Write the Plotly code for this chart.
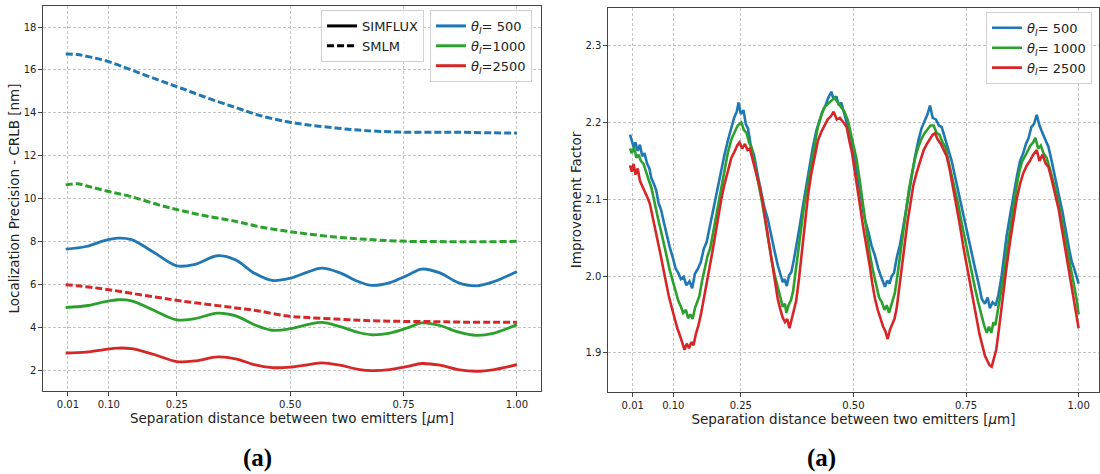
import plotly.graph_objects as go

BLUE, GREEN, RED = "#1f77b4", "#2ca02c", "#d62728"

# ---------------- Left panel data (CRLB, nm) ----------------
x_simflux = [0.005, 0.05, 0.09, 0.12, 0.15, 0.20, 0.25, 0.29, 0.34, 0.38, 0.42, 0.46, 0.50,
             0.54, 0.57, 0.61, 0.65, 0.68, 0.72, 0.76, 0.79, 0.83, 0.87, 0.91, 0.95, 1.00]
simflux_500 = [7.66, 7.78, 8.05, 8.17, 8.10, 7.50, 6.88, 6.95, 7.35, 7.15, 6.55, 6.20, 6.30,
               6.60, 6.77, 6.55, 6.15, 5.97, 6.10, 6.45, 6.73, 6.55, 6.10, 5.95, 6.15, 6.62]
simflux_1000 = [4.94, 5.02, 5.20, 5.30, 5.25, 4.80, 4.36, 4.42, 4.68, 4.55, 4.15, 3.88, 3.95,
                4.15, 4.25, 4.05, 3.78, 3.67, 3.75, 4.00, 4.22, 4.10, 3.80, 3.64, 3.75, 4.14]
simflux_2500 = [2.82, 2.86, 2.98, 3.05, 3.02, 2.75, 2.42, 2.45, 2.64, 2.55, 2.28, 2.14, 2.16,
                2.28, 2.36, 2.25, 2.06, 2.00, 2.05, 2.20, 2.33, 2.25, 2.05, 1.97, 2.05, 2.28]

x_smlm = [0.005, 0.03, 0.06, 0.10, 0.15, 0.21, 0.26, 0.32, 0.38, 0.43, 0.49, 0.54, 0.60,
          0.65, 0.70, 0.76, 0.82, 0.87, 0.93, 1.00]
smlm_500 = [16.75, 16.72, 16.60, 16.39, 16.00, 15.53, 15.15, 14.68, 14.25, 13.90, 13.60, 13.44,
            13.30, 13.20, 13.14, 13.10, 13.10, 13.10, 13.08, 13.06]
smlm_1000 = [10.65, 10.70, 10.55, 10.34, 10.10, 9.72, 9.45, 9.18, 8.95, 8.71, 8.50, 8.36,
             8.22, 8.14, 8.07, 8.02, 8.01, 8.00, 8.00, 8.02]
smlm_2500 = [6.00, 5.95, 5.88, 5.77, 5.60, 5.40, 5.24, 5.08, 4.92, 4.78, 4.55, 4.47,
             4.40, 4.35, 4.31, 4.29, 4.28, 4.26, 4.25, 4.25]

# ---------------- Right panel data (improvement factor) ----------------
x_if_500 = [0.004, 0.008, 0.012, 0.016, 0.021, 0.026, 0.031, 0.036, 0.042, 0.047, 0.051, 0.057,
            0.062, 0.067, 0.073, 0.079, 0.086, 0.092, 0.099, 0.105, 0.111, 0.117, 0.123, 0.129,
            0.136, 0.142, 0.148, 0.155, 0.161, 0.168, 0.174, 0.180, 0.187, 0.193, 0.199, 0.206,
            0.213, 0.221, 0.228, 0.235, 0.241, 0.245, 0.250, 0.256, 0.261, 0.266, 0.272, 0.279,
            0.288, 0.295, 0.302, 0.310, 0.317, 0.325, 0.332, 0.338, 0.343, 0.347, 0.352, 0.357,
            0.362, 0.368, 0.374, 0.381, 0.388, 0.395, 0.403, 0.410, 0.418, 0.425, 0.431, 0.438,
            0.444, 0.451, 0.456, 0.462, 0.468, 0.473, 0.480, 0.488, 0.496, 0.503, 0.510, 0.518,
            0.525, 0.533, 0.540, 0.548, 0.555, 0.562, 0.570, 0.575, 0.580, 0.585, 0.590, 0.597,
            0.603, 0.610, 0.616, 0.622, 0.630, 0.637, 0.644, 0.651, 0.658, 0.664, 0.670, 0.676,
            0.683, 0.690, 0.696, 0.704, 0.711, 0.718, 0.726, 0.733, 0.740, 0.748, 0.755, 0.763,
            0.770, 0.778, 0.785, 0.792, 0.798, 0.803, 0.809, 0.816, 0.822, 0.829, 0.835, 0.840,
            0.848, 0.856, 0.863, 0.870, 0.877, 0.883, 0.889, 0.895, 0.901, 0.907, 0.913, 0.920,
            0.927, 0.933, 0.940, 0.946, 0.952, 0.958, 0.964, 0.970, 0.975, 0.980, 0.985, 0.990,
            0.995, 1.000]
if_500 = [2.184, 2.176, 2.168, 2.174, 2.163, 2.171, 2.156, 2.160, 2.146, 2.140, 2.128, 2.120,
          2.112, 2.096, 2.086, 2.070, 2.052, 2.038, 2.024, 2.010, 2.004, 1.996, 1.999, 1.988,
          1.993, 1.984, 2.003, 2.010, 2.018, 2.036, 2.044, 2.062, 2.078, 2.098, 2.114, 2.135,
          2.156, 2.176, 2.190, 2.206, 2.214, 2.226, 2.211, 2.216, 2.198, 2.192, 2.170, 2.158,
          2.130, 2.112, 2.090, 2.074, 2.052, 2.032, 2.014, 2.003, 1.992, 1.996, 1.987, 2.001,
          2.005, 2.022, 2.041, 2.066, 2.092, 2.118, 2.146, 2.168, 2.190, 2.204, 2.214, 2.222,
          2.232, 2.240, 2.230, 2.234, 2.222, 2.226, 2.210, 2.195, 2.176, 2.150, 2.124, 2.098,
          2.074, 2.058, 2.040, 2.026, 2.010, 1.998, 1.986, 1.994, 1.990, 2.000, 2.004, 2.026,
          2.040, 2.062, 2.084, 2.104, 2.132, 2.156, 2.176, 2.192, 2.202, 2.210, 2.222, 2.206,
          2.204, 2.196, 2.194, 2.176, 2.164, 2.150, 2.128, 2.110, 2.090, 2.068, 2.050, 2.030,
          2.010, 1.990, 1.970, 1.964, 1.972, 1.958, 1.966, 1.962, 1.976, 2.000, 2.030, 2.052,
          2.080, 2.108, 2.130, 2.150, 2.160, 2.172, 2.180, 2.194, 2.198, 2.210, 2.196, 2.186,
          2.176, 2.168, 2.150, 2.132, 2.118, 2.100, 2.084, 2.062, 2.048, 2.032, 2.018, 2.010,
          1.998, 1.990]

x_if_1000 = [0.004, 0.008, 0.013, 0.018, 0.023, 0.028, 0.034, 0.040, 0.046, 0.051, 0.057, 0.062,
             0.068, 0.073, 0.079, 0.086, 0.092, 0.099, 0.105, 0.111, 0.117, 0.122, 0.128, 0.133,
             0.138, 0.143, 0.148, 0.153, 0.158, 0.164, 0.170, 0.176, 0.182, 0.188, 0.194, 0.200,
             0.207, 0.214, 0.221, 0.229, 0.236, 0.243, 0.251, 0.257, 0.263, 0.268, 0.273, 0.280,
             0.288, 0.296, 0.303, 0.310, 0.318, 0.325, 0.332, 0.338, 0.343, 0.348, 0.351, 0.356,
             0.361, 0.366, 0.372, 0.378, 0.384, 0.391, 0.399, 0.407, 0.414, 0.421, 0.429, 0.436,
             0.443, 0.450, 0.458, 0.465, 0.472, 0.480, 0.488, 0.496, 0.502, 0.507, 0.514, 0.522,
             0.529, 0.536, 0.543, 0.551, 0.557, 0.563, 0.569, 0.574, 0.579, 0.585, 0.592, 0.598,
             0.604, 0.611, 0.617, 0.623, 0.630, 0.637, 0.644, 0.652, 0.658, 0.665, 0.671, 0.678,
             0.685, 0.691, 0.698, 0.704, 0.711, 0.718, 0.726, 0.733, 0.740, 0.748, 0.755, 0.763,
             0.770, 0.777, 0.784, 0.790, 0.796, 0.801, 0.806, 0.811, 0.815, 0.820, 0.826, 0.833,
             0.840, 0.848, 0.855, 0.862, 0.869, 0.875, 0.881, 0.887, 0.893, 0.899, 0.904, 0.910,
             0.916, 0.922, 0.929, 0.936, 0.943, 0.952, 0.958, 0.964, 0.970, 0.975, 0.980, 0.986,
             0.991, 0.996, 1.000]
if_1000 = [2.166, 2.160, 2.168, 2.154, 2.158, 2.150, 2.146, 2.134, 2.124, 2.116, 2.098, 2.086,
           2.070, 2.058, 2.040, 2.024, 2.008, 1.992, 1.980, 1.968, 1.960, 1.952, 1.956, 1.945,
           1.950, 1.944, 1.958, 1.966, 1.974, 1.994, 2.010, 2.026, 2.036, 2.056, 2.078, 2.094,
           2.116, 2.138, 2.160, 2.178, 2.186, 2.196, 2.200, 2.190, 2.186, 2.174, 2.168, 2.148,
           2.124, 2.100, 2.076, 2.050, 2.022, 2.002, 1.984, 1.972, 1.960, 1.964, 1.952, 1.962,
           1.968, 1.980, 2.006, 2.036, 2.064, 2.094, 2.120, 2.148, 2.170, 2.194, 2.210, 2.220,
           2.224, 2.228, 2.232, 2.226, 2.220, 2.214, 2.202, 2.180, 2.166, 2.152, 2.124, 2.088,
           2.054, 2.030, 2.008, 1.988, 1.972, 1.966, 1.956, 1.962, 1.952, 1.964, 1.978, 2.002,
           2.030, 2.060, 2.086, 2.112, 2.134, 2.154, 2.168, 2.180, 2.186, 2.192, 2.196, 2.196,
           2.186, 2.184, 2.174, 2.168, 2.150, 2.134, 2.112, 2.092, 2.070, 2.046, 2.024, 2.004,
           1.984, 1.966, 1.948, 1.936, 1.926, 1.934, 1.926, 1.940, 1.936, 1.954, 1.976, 1.998,
           2.030, 2.062, 2.090, 2.116, 2.138, 2.150, 2.156, 2.164, 2.170, 2.174, 2.180, 2.166,
           2.170, 2.160, 2.154, 2.140, 2.124, 2.104, 2.086, 2.068, 2.052, 2.036, 2.022, 2.000,
           1.984, 1.968, 1.950]

x_if_2500 = [0.004, 0.008, 0.012, 0.016, 0.021, 0.026, 0.032, 0.037, 0.043, 0.048, 0.054, 0.060,
             0.066, 0.071, 0.077, 0.084, 0.090, 0.097, 0.103, 0.109, 0.115, 0.120, 0.125, 0.130,
             0.135, 0.140, 0.145, 0.150, 0.156, 0.162, 0.168, 0.175, 0.181, 0.187, 0.194, 0.200,
             0.206, 0.213, 0.221, 0.229, 0.236, 0.242, 0.247, 0.253, 0.259, 0.265, 0.270, 0.277,
             0.285, 0.292, 0.299, 0.306, 0.314, 0.320, 0.326, 0.332, 0.338, 0.343, 0.348, 0.353,
             0.358, 0.363, 0.368, 0.373, 0.379, 0.385, 0.392, 0.399, 0.406, 0.414, 0.421, 0.429,
             0.436, 0.443, 0.450, 0.456, 0.463, 0.470, 0.478, 0.485, 0.491, 0.497, 0.502, 0.507,
             0.514, 0.521, 0.529, 0.536, 0.542, 0.548, 0.554, 0.560, 0.566, 0.571, 0.576, 0.581,
             0.586, 0.591, 0.596, 0.602, 0.608, 0.614, 0.620, 0.627, 0.633, 0.640, 0.648, 0.656,
             0.663, 0.670, 0.676, 0.681, 0.687, 0.694, 0.700, 0.707, 0.714, 0.721, 0.729, 0.737,
             0.744, 0.752, 0.759, 0.766, 0.774, 0.780, 0.786, 0.792, 0.797, 0.802, 0.807, 0.812,
             0.817, 0.822, 0.828, 0.834, 0.840, 0.847, 0.855, 0.863, 0.870, 0.877, 0.885, 0.892,
             0.899, 0.907, 0.913, 0.920, 0.927, 0.933, 0.940, 0.947, 0.956, 0.962, 0.968, 0.974,
             0.981, 0.987, 0.993, 1.000]
if_2500 = [2.144, 2.136, 2.146, 2.132, 2.140, 2.124, 2.116, 2.110, 2.102, 2.094, 2.078, 2.060,
           2.046, 2.030, 2.012, 1.990, 1.974, 1.958, 1.944, 1.932, 1.922, 1.914, 1.904, 1.912,
           1.906, 1.914, 1.910, 1.924, 1.936, 1.952, 1.970, 1.992, 2.012, 2.032, 2.056, 2.078,
           2.098, 2.118, 2.138, 2.154, 2.162, 2.170, 2.174, 2.166, 2.172, 2.164, 2.166, 2.150,
           2.132, 2.116, 2.094, 2.068, 2.042, 2.016, 1.994, 1.970, 1.956, 1.946, 1.940, 1.944,
           1.932, 1.944, 1.952, 1.968, 1.996, 2.030, 2.070, 2.104, 2.132, 2.158, 2.176, 2.188,
           2.196, 2.204, 2.208, 2.214, 2.204, 2.206, 2.200, 2.194, 2.176, 2.160, 2.140, 2.118,
           2.094, 2.066, 2.040, 2.014, 1.990, 1.970, 1.956, 1.944, 1.934, 1.928, 1.918, 1.930,
           1.936, 1.944, 1.958, 1.986, 2.016, 2.046, 2.070, 2.096, 2.118, 2.134, 2.150, 2.164,
           2.172, 2.178, 2.184, 2.186, 2.178, 2.172, 2.164, 2.156, 2.138, 2.116, 2.090, 2.064,
           2.038, 2.012, 1.988, 1.966, 1.944, 1.924, 1.910, 1.896, 1.890, 1.884, 1.882, 1.892,
           1.904, 1.926, 1.956, 1.984, 2.012, 2.042, 2.074, 2.102, 2.120, 2.134, 2.144, 2.150,
           2.158, 2.164, 2.150, 2.158, 2.146, 2.142, 2.126, 2.110, 2.086, 2.064, 2.044, 2.024,
           2.000, 1.980, 1.958, 1.932]

x_ticks = [0.01, 0.10, 0.25, 0.50, 0.75, 1.00]
x_ticklabels = ["0.01", "0.10", "0.25", "0.50", "0.75", "1.00"]
left_yticks = [2, 4, 6, 8, 10, 12, 14, 16, 18]
right_yticks = [1.9, 2.0, 2.1, 2.2, 2.3]

theta = "<i>θ</i><sub><i>I</i></sub>"
labels_left = [theta + "= 500", theta + "=1000", theta + "=2500"]
labels_right = [theta + "= 500", theta + "= 1000", theta + "= 2500"]
colors = [BLUE, GREEN, RED]

fig = go.Figure()

# Left: SIMFLUX solid, SMLM dashed
for ys, c in zip([simflux_500, simflux_1000, simflux_2500], colors):
    fig.add_trace(go.Scatter(x=x_simflux, y=ys, mode="lines", line=dict(color=c, width=2.8, shape="spline"),
                             showlegend=False, xaxis="x", yaxis="y"))
for ys, c in zip([smlm_500, smlm_1000, smlm_2500], colors):
    fig.add_trace(go.Scatter(x=x_smlm, y=ys, mode="lines",
                             line=dict(color=c, width=3, dash="7px,3px", shape="spline"),
                             showlegend=False, xaxis="x", yaxis="y"))

# legend entries (style legend)
fig.add_trace(go.Scatter(x=[None], y=[None], mode="lines", line=dict(color="black", width=3),
                         name="SIMFLUX", legend="legend", xaxis="x", yaxis="y"))
fig.add_trace(go.Scatter(x=[None], y=[None], mode="lines", line=dict(color="black", width=3, dash="7px,3px"),
                         name="SMLM", legend="legend", xaxis="x", yaxis="y"))
# colour legend (left)
for lab, c in zip(labels_left, colors):
    fig.add_trace(go.Scatter(x=[None], y=[None], mode="lines", line=dict(color=c, width=3),
                             name=lab, legend="legend2", xaxis="x", yaxis="y"))

# Right panel
for xs, ys, lab, c in zip([x_if_500, x_if_1000, x_if_2500], [if_500, if_1000, if_2500], labels_right, colors):
    fig.add_trace(go.Scatter(x=xs, y=ys, mode="lines", line=dict(color=c, width=2.6),
                             name=lab, legend="legend3", xaxis="x2", yaxis="y2"))

grid = dict(showgrid=True, gridcolor="#c4c4c4", griddash="3px,2px", gridwidth=1)
axis_common = dict(showline=True, linecolor="#444", linewidth=1.2, mirror=True, ticks="outside",
                   ticklen=3.5, tickcolor="#444", zeroline=False,
                   tickfont=dict(family="DejaVu Sans", size=10, color="#222"), **grid)

legend_common = dict(xanchor="right", yanchor="top", bgcolor="rgba(255,255,255,0.85)",
                     bordercolor="#d0d0d0", borderwidth=1, font=dict(size=13, family="DejaVu Sans"),
                     tracegroupgap=0, itemwidth=30)

fig.update_layout(
    width=1100, height=474, margin=dict(l=0, r=0, t=0, b=0),
    paper_bgcolor="white", plot_bgcolor="white",
    font=dict(family="DejaVu Sans", color="#222"),
    xaxis=dict(domain=[0.0391, 0.4918], range=[-0.045, 1.053], tickvals=x_ticks, ticktext=x_ticklabels,
               title=dict(text="Separation distance between two emitters [<i>μ</i>m]", font=dict(size=13.5), standoff=4),
               anchor="y", **axis_common),
    yaxis=dict(domain=[0.1751, 0.9873], range=[1.05, 18.98], tickvals=left_yticks,
               title=dict(text="Localization Precision - CRLB [nm]", font=dict(size=13.5), standoff=0),
               anchor="x", **axis_common),
    xaxis2=dict(domain=[0.5527, 0.999], range=[-0.045, 1.045], tickvals=x_ticks, ticktext=x_ticklabels,
                title=dict(text="Separation distance between two emitters [<i>μ</i>m]", font=dict(size=13.5), standoff=4),
                anchor="y2", **axis_common),
    yaxis2=dict(domain=[0.1730, 0.9831], range=[1.849, 2.349], tickvals=right_yticks, tickformat=".1f",
                title=dict(text="Improvement Factor", font=dict(size=13.5), standoff=0),
                anchor="x2", **axis_common),
    legend=dict(x=0.3855, y=0.9790, **legend_common),
    legend2=dict(x=0.4836, y=0.9790, **legend_common),
    legend3=dict(x=0.9927, y=0.9750, **legend_common),
    annotations=[
        dict(text="<b>(a)</b>", x=257 / 1100, y=1 - 458 / 474, xref="paper", yref="paper", showarrow=False,
             xanchor="center", yanchor="middle",
             font=dict(family="Liberation Serif", size=25, color="black")),
        dict(text="<b>(a)</b>", x=821 / 1100, y=1 - 458 / 474, xref="paper", yref="paper", showarrow=False,
             xanchor="center", yanchor="middle",
             font=dict(family="Liberation Serif", size=25, color="black")),
    ],
)

fig.write_html("out.html")
